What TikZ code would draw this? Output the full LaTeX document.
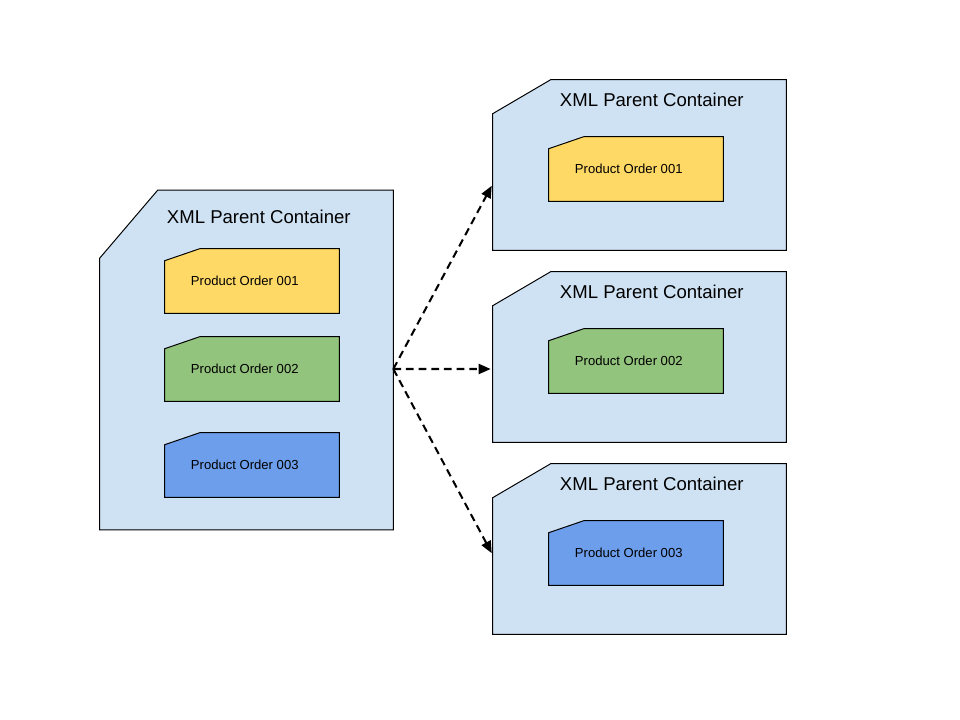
\documentclass[tikz,border=0pt]{standalone}
\usepackage{fontspec}
\setmainfont{Liberation Sans}
\usetikzlibrary{arrows.meta}
\definecolor{paleblue}{HTML}{CFE2F3}
\definecolor{orderyellow}{HTML}{FFD966}
\definecolor{ordergreen}{HTML}{93C47D}
\definecolor{orderblue}{HTML}{6D9EEB}
% outline with the top left corner cut off: node, cut width, cut height, fill
\newcommand{\cutbox}[4]{%
  \filldraw[fill=#4, draw=black, line width=0.7pt]
    ([yshift=-#3]#1.north west) -- ([xshift=#2]#1.north west) -- (#1.north east)
    -- (#1.south east) -- (#1.south west) -- cycle;}
\tikzset{
  frame/.style={rectangle, inner sep=0pt, minimum width=7.325cm},
  order/.style={rectangle, inner sep=0pt, minimum width=4.35cm, minimum height=1.6cm},
  heading/.style={anchor=west, inner sep=0pt, font=\fontsize{13.2}{15}\selectfont},
  ordertext/.style={anchor=west, inner sep=0pt, font=\fontsize{9.3}{11}\selectfont},
  flow/.style={dash pattern=on 5.5pt off 3.5pt, line width=1.45pt,
    -{Triangle[length=0.3cm,width=0.25cm]}, shorten >=0.05cm}
}
\begin{document}
\begin{tikzpicture}[x=0.025cm, y=-0.025cm]
  \fill[white] (0,0) rectangle (960,720);
  \useasboundingbox (0,0) rectangle (960,720);
  % source container
  \node[frame, minimum height=8.475cm, name=L] at (246.5,360) {};
  \cutbox{L}{1.45cm}{1.7cm}{paleblue}
  \node[heading, name=Lt] at ([xshift=1.675cm, yshift=-0.675cm]L.north west) {XML Parent Container};
  \foreach \y/\c/\n in {281/orderyellow/001, 369/ordergreen/002, 465/orderblue/003}{
    \node[order, name=lo\n] at (252,\y) {};
    \cutbox{lo\n}{0.875cm}{0.3cm}{\c}
    \node[ordertext] at ([xshift=0.65cm]lo\n.west) {Product Order \n};
  }
  \coordinate (src) at (L.east |- lo002);
  % split containers
  \foreach \y/\c/\n/\s in {165/orderyellow/001/-0.475cm, 357/ordergreen/002/-0.3cm, 549/orderblue/003/-0.15cm}{
    \node[frame, minimum height=4.25cm, name=R\n] at (639.5,\y) {};
    \cutbox{R\n}{1.45cm}{0.85cm}{paleblue}
    \node[heading] at ([xshift=1.675cm, yshift=-0.5cm]R\n.north west) {XML Parent Container};
    \node[order, name=ro\n] at (636,\y+4) {};
    \cutbox{ro\n}{0.875cm}{0.3cm}{\c}
    \node[ordertext] at ([xshift=0.65cm]ro\n.west) {Product Order \n};
    \draw[flow] (src) -- ([yshift=\s]R\n.west);
  }
\end{tikzpicture}
\end{document}
